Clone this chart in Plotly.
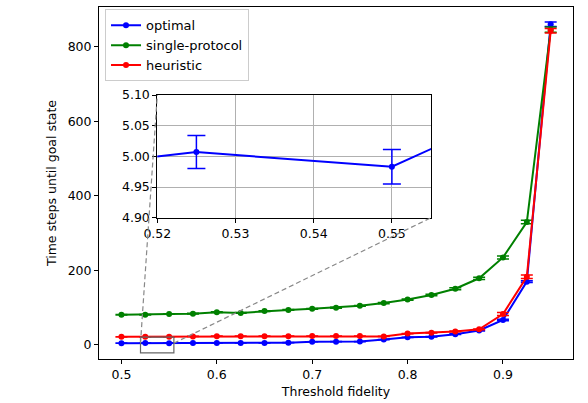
import plotly.graph_objects as go

# ---------------- data ----------------
fidelity = [0.5, 0.525, 0.55, 0.575, 0.6, 0.625, 0.65, 0.675, 0.7, 0.725,
            0.75, 0.775, 0.8, 0.825, 0.85, 0.875, 0.9, 0.925, 0.95]

optimal = [4.972, 5.007, 4.983, 5.128, 5.4, 5.5, 5.6, 6.2, 8.8, 9.0,
           9.3, 14.5, 20.5, 22.0, 29.0, 39.0, 67.0, 170.0, 861.0]
optimal_err = [0.03, 0.027, 0.028, 0.03, 0.05, 0.07, 0.1, 0.15, 0.2, 0.25,
               0.3, 0.4, 0.6, 0.8, 1.0, 1.5, 2.0, 2.5, 6.0]

single_protocol = [81.0, 81.0, 83.0, 84.0, 88.0, 86.0, 91.0, 94.0, 97.0, 100.0,
                   105.0, 112.5, 122.0, 134.0, 151.0, 179.0, 235.0, 330.0, 846.0]
single_err = [0.8, 0.8, 0.8, 0.9, 0.9, 1.0, 1.0, 1.0, 1.1, 1.2,
              1.3, 1.5, 1.7, 2.0, 2.5, 3.0, 4.0, 4.5, 7.0]

heuristic = [22.0, 22.0, 22.0, 23.0, 23.5, 23.5, 23.5, 23.5, 24.0, 24.0,
             24.0, 23.0, 30.5, 33.0, 36.5, 42.0, 83.0, 183.0, 843.0]
heuristic_err = [0.3, 0.3, 0.3, 0.3, 0.3, 0.3, 0.3, 0.3, 0.4, 0.4,
                 0.4, 0.5, 0.6, 0.7, 0.8, 1.0, 4.0, 4.5, 6.0]

series_names = ["optimal", "single-protocol", "heuristic"]
series_colors = ["#0000ff", "#008000", "#ff0000"]

x_ticks = [0.5, 0.6, 0.7, 0.8, 0.9]
y_ticks = [0, 200, 400, 600, 800]
inset_x_ticks = [0.52, 0.53, 0.54, 0.55]
inset_y_ticks = [4.90, 4.95, 5.00, 5.05, 5.10]

# ---------------- layout constants ----------------
X_RANGE = [0.4765, 0.9734]
Y_RANGE = [-37.6, 907.0]
INSET_X = [0.52, 0.555]
INSET_Y = [4.90, 5.10]
INSET_DOM_X = [0.123, 0.7004]
INSET_DOM_Y = [0.4014, 0.75]
BOX_Y = [-21.0, 21.0]

fig = go.Figure()

all_y = [optimal, single_protocol, heuristic]
all_e = [optimal_err, single_err, heuristic_err]
for name, color, yv, ev in zip(series_names, series_colors, all_y, all_e):
    fig.add_trace(go.Scatter(
        x=fidelity, y=yv, name=name, mode="lines+markers",
        line=dict(color=color, width=2),
        marker=dict(color=color, size=6),
        error_y=dict(type="data", array=ev, visible=True, color=color,
                     thickness=1.5, width=6),
        xaxis="x", yaxis="y",
    ))

# inset: optimal only
fig.add_trace(go.Scatter(
    x=fidelity, y=optimal, mode="lines+markers", showlegend=False,
    line=dict(color=series_colors[0], width=2),
    marker=dict(color=series_colors[0], size=6),
    error_y=dict(type="data", array=optimal_err, visible=True,
                 color=series_colors[0], thickness=1.5, width=9),
    xaxis="x2", yaxis="y2",
))

font_fam = "DejaVu Sans"
axis_common = dict(showline=True, linecolor="black", linewidth=1, mirror=True,
                   ticks="outside", ticklen=4, tickcolor="black", tickwidth=1,
                   tickfont=dict(family=font_fam, size=12.5, color="black"),
                   zeroline=False, automargin=False)

fig.update_layout(
    template="none",
    width=588, height=403,
    margin=dict(l=99, r=15, t=7, b=44, pad=0),
    paper_bgcolor="white", plot_bgcolor="white",
    font=dict(family=font_fam, color="black"),
    xaxis=dict(range=X_RANGE, tickvals=x_ticks, showgrid=False,
               title=dict(text="Threshold fidelity", font=dict(size=12.5), standoff=6),
               **axis_common),
    yaxis=dict(range=Y_RANGE, tickvals=y_ticks, showgrid=False,
               title=dict(text="Time steps until goal state", font=dict(size=12.5), standoff=8),
               **axis_common),
    xaxis2=dict(domain=INSET_DOM_X, anchor="y2", range=INSET_X,
                tickvals=inset_x_ticks, tickformat=".2f",
                showgrid=True, gridcolor="#b0b0b0", gridwidth=1, **axis_common),
    yaxis2=dict(domain=INSET_DOM_Y, anchor="x2", range=INSET_Y,
                tickvals=inset_y_ticks, tickformat=".2f",
                showgrid=True, gridcolor="#b0b0b0", gridwidth=1, **axis_common),
    legend=dict(x=0.0127, y=0.9935, xanchor="left", yanchor="top",
                bgcolor="rgba(255,255,255,0.8)", bordercolor="#cccccc", borderwidth=1,
                font=dict(family=font_fam, size=13)),
    showlegend=True,
)

# zoom box and connectors
def to_main_x(p):
    return X_RANGE[0] + p * (X_RANGE[1] - X_RANGE[0])

def to_main_y(p):
    return Y_RANGE[0] + p * (Y_RANGE[1] - Y_RANGE[0])

fig.add_shape(type="rect", xref="x", yref="y",
              x0=INSET_X[0], x1=INSET_X[1], y0=BOX_Y[0], y1=BOX_Y[1],
              line=dict(color="#666666", width=1.2))
fig.add_shape(type="line", xref="x", yref="y",
              x0=INSET_X[0], y0=INSET_Y[1],
              x1=to_main_x(INSET_DOM_X[0]), y1=to_main_y(INSET_DOM_Y[1]),
              line=dict(color="#888888", width=1.2, dash="5px,3px"))
fig.add_shape(type="line", xref="x", yref="y",
              x0=INSET_X[1], y0=INSET_Y[0],
              x1=to_main_x(INSET_DOM_X[1]), y1=to_main_y(INSET_DOM_Y[0]),
              line=dict(color="#888888", width=1.2, dash="5px,3px"))

fig.write_html("out.html",
               config={"responsive": False, "displayModeBar": False},
               post_script="document.body.style.margin='0';document.body.style.overflow='hidden';")
